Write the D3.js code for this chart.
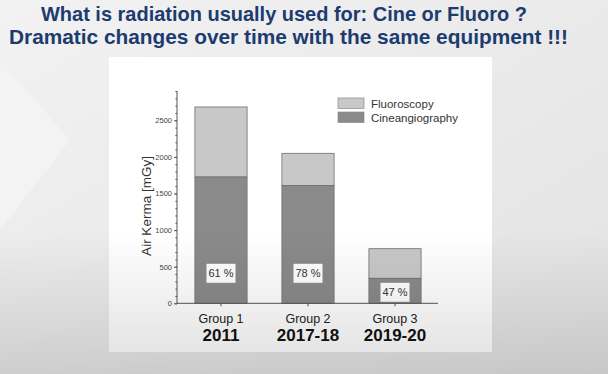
<!DOCTYPE html>
<html>
<head>
<meta charset="utf-8">
<script src="https://cdn.jsdelivr.net/npm/d3@7.9.0/dist/d3.min.js"></script>
<style>
  html, body { margin: 0; padding: 0; background: #e9e9ea; }
  svg { display: block; }
</style>
</head>
<body>
<svg id="chart" width="608" height="374"></svg>
<script>
// data
const groups = ['Group 1', 'Group 2', 'Group 3'];
const years = ['2011', '2017-18', '2019-20'];
const cine = [1725, 1607, 341];
const fluoro = [957, 442, 405];
const pctLabels = ['61 %', '78 %', '47 %'];
const yTicks = [0, 500, 1000, 1500, 2000, 2500];
const seriesNames = ['Fluoroscopy', 'Cineangiography'];

const svg = d3.select('#chart');
const W = 608, H = 374;
const font = 'Liberation Sans, Arial, sans-serif';

const defs = svg.append('defs');
const bg = defs.append('linearGradient').attr('id', 'bg')
  .attr('x1', 0).attr('y1', 0).attr('x2', 1).attr('y2', 1);
bg.append('stop').attr('offset', 0).attr('stop-color', '#f2f2f3');
bg.append('stop').attr('offset', 1).attr('stop-color', '#e2e2e3');

const shade = defs.append('linearGradient').attr('id', 'shade')
  .attr('x1', 0).attr('y1', 0).attr('x2', 0).attr('y2', 1);
shade.append('stop').attr('offset', 0).attr('stop-color', '#000').attr('stop-opacity', 0);
shade.append('stop').attr('offset', 1).attr('stop-color', '#000').attr('stop-opacity', 0.12);

svg.append('rect').attr('width', W).attr('height', H).attr('fill', 'url(#bg)');

// faint slide decoration on the left
svg.append('path').attr('d', 'M0,60 L70,140 L0,230 Z').attr('fill', '#f4f4f5').attr('opacity', 0.8);

// title
const title = svg.append('text')
  .attr('font-family', font)
  .attr('font-weight', 'bold')
  .attr('font-size', 21)
  .attr('fill', '#1d3b6f');
title.append('tspan').attr('x', 41).attr('y', 21)
  .attr('textLength', 486).attr('lengthAdjust', 'spacingAndGlyphs')
  .text('What is radiation usually used for: Cine or Fluoro ?');
title.append('tspan').attr('x', 9).attr('y', 44)
  .attr('textLength', 559).attr('lengthAdjust', 'spacingAndGlyphs')
  .text('Dramatic changes over time with the same equipment !!!');

// white panel
svg.append('rect').attr('x', 109).attr('y', 57).attr('width', 383).attr('height', 295).attr('fill', '#ffffff');

const x = d3.scaleBand().domain(groups).range([177.5, 438.5]).paddingInner(0.4).paddingOuter(0.2);
const y = d3.scaleLinear().domain([0, 2900]).range([303.3, 91]);

const cFluoro = '#c8c8c8', cCine = '#8a8a8a', cEdge = '#6f6f6f';

// bars
const g = svg.append('g');
groups.forEach((grp, i) => {
  g.append('rect')
    .attr('x', x(grp)).attr('width', x.bandwidth())
    .attr('y', y(cine[i] + fluoro[i])).attr('height', y(cine[i]) - y(cine[i] + fluoro[i]))
    .attr('fill', cFluoro).attr('stroke', cEdge).attr('stroke-width', 0.8);
  g.append('rect')
    .attr('x', x(grp)).attr('width', x.bandwidth())
    .attr('y', y(cine[i])).attr('height', y(0) - y(cine[i]))
    .attr('fill', cCine).attr('stroke', cEdge).attr('stroke-width', 0.8);
});

// percentage boxes
groups.forEach((grp, i) => {
  const cx = x(grp) + x.bandwidth() / 2;
  const cy = i === 2 ? y(0) - 11 : y(0) - 30;
  g.append('rect').attr('x', cx - 14.5).attr('y', cy - 9.5).attr('width', 29).attr('height', 19)
    .attr('fill', '#ffffff');
  g.append('text').attr('x', cx).attr('y', cy + 4)
    .attr('text-anchor', 'middle')
    .attr('font-family', font)
    .attr('font-size', 11).attr('fill', '#333')
    .text(pctLabels[i]);
});

// y axis
const yAxis = svg.append('g').attr('transform', 'translate(177,0)')
  .call(d3.axisLeft(y).tickValues(yTicks).tickSize(3).tickPadding(2).tickFormat(d3.format('d')));
svg.append('g').attr('transform', 'translate(177,0)')
  .call(d3.axisLeft(y).tickValues(d3.range(0, 2901, 100)).tickSize(1.6).tickFormat(''))
  .call(a => a.select('.domain').remove())
  .selectAll('line').attr('stroke', '#555');
yAxis.select('.domain').attr('stroke', '#555').attr('d', `M0,${y(2900)}V${y(0)}`);
yAxis.selectAll('line').attr('stroke', '#555');
yAxis.selectAll('text')
  .attr('font-family', font)
  .attr('font-size', 7.5).attr('fill', '#444');

// x axis
const xAxis = svg.append('g').attr('transform', `translate(0,${y(0)})`)
  .call(d3.axisBottom(x).tickSize(3).tickFormat(''));
xAxis.select('.domain').attr('stroke', '#555').attr('d', `M177,0H438`);
xAxis.selectAll('line').attr('stroke', '#555');

groups.forEach((grp, i) => {
  const cx = x(grp) + x.bandwidth() / 2;
  svg.append('text').attr('x', cx).attr('y', 323)
    .attr('text-anchor', 'middle')
    .attr('font-family', font)
    .attr('font-size', 12.5).attr('fill', '#222')
    .text(grp);
  svg.append('text').attr('x', cx).attr('y', 340.5)
    .attr('text-anchor', 'middle')
    .attr('font-family', font)
    .attr('font-weight', 'bold')
    .attr('font-size', 17).attr('fill', '#111')
    .text(years[i]);
});

// y label
svg.append('text')
  .attr('transform', 'translate(151,206) rotate(-90)')
  .attr('text-anchor', 'middle')
  .attr('font-family', font)
  .attr('font-size', 13.5).attr('fill', '#333')
  .text('Air Kerma [mGy]');

// legend
const legColors = [cFluoro, cCine];
seriesNames.forEach((name, i) => {
  const ly = 98 + i * 14;
  svg.append('rect').attr('x', 338).attr('y', ly).attr('width', 26).attr('height', 10.5)
    .attr('fill', legColors[i]).attr('stroke', '#8a8a8a').attr('stroke-width', 0.7);
  svg.append('text').attr('x', 371).attr('y', ly + 9.5)
    .attr('font-family', font)
    .attr('font-size', 11.5).attr('fill', '#333')
    .text(name);
});

// video-like darkening toward the bottom
svg.append('rect').attr('x', 0).attr('y', 230).attr('width', W).attr('height', H - 230)
  .attr('fill', 'url(#shade)');
</script>
</body>
</html>
